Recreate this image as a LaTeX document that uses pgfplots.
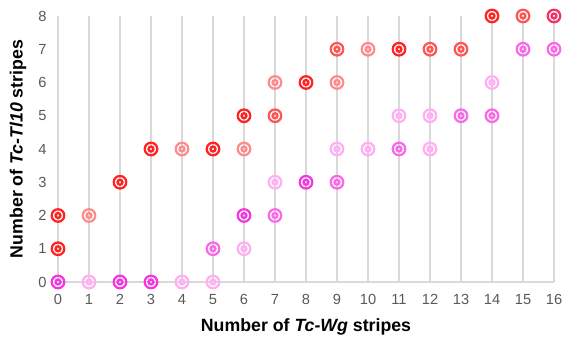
\documentclass[border=0pt]{standalone}
\usepackage{fontspec}
\setmainfont{Liberation Sans}
\usepackage{pgfplots}
\pgfplotsset{compat=1.18}
\definecolor{rdark}{RGB}{255,35,35}
\definecolor{rmed}{RGB}{255,85,85}
\definecolor{rlight}{RGB}{255,140,140}
\definecolor{crim}{RGB}{242,50,105}
\definecolor{mdark}{RGB}{245,55,225}
\definecolor{mmed}{RGB}{250,105,232}
\definecolor{mlight}{RGB}{255,175,242}
\definecolor{tickgray}{RGB}{89,89,89}
\definecolor{gridgray}{RGB}{217,217,217}
\pgfdeclareplotmark{ring2}{%
  \pgfpathcircle{\pgfpointorigin}{\pgfplotmarksize}\pgfusepathqstroke
  \pgfpathcircle{\pgfpointorigin}{0.4\pgfplotmarksize}\pgfusepathqstroke}
\begin{document}
\begin{tikzpicture}
\begin{axis}[
  name=main,
  scale only axis,
  width=372pt, height=199.5pt,
  xmin=0, xmax=16, ymin=0, ymax=8,
  xtick={0,...,16}, ytick={0,...,8},
  axis line style={draw=none},
  tick style={draw=none},
  xmajorgrids,
  grid style={gridgray, line width=1.1pt},
  clip=false,
  /pgf/number format/assume math mode=true,
  ticklabel style={font=\fontsize{11}{13}\selectfont, text=tickgray},
  xticklabel style={yshift=-5.5pt},
  yticklabel style={xshift=-5pt},
  xlabel={\bfseries Number of \textit{Tc-Wg} stripes},
  ylabel={\bfseries Number of \textit{Tc-Tl10} stripes},
  label style={font=\fontsize{13.3}{15}\selectfont},
  xlabel style={at={(axis description cs:0.5,-0.17)}, anchor=center},
  ylabel style={at={(axis description cs:-0.0806,0.5)}, anchor=center},
  every axis plot/.append style={only marks, mark=ring2, mark size=4.7pt, line width=1.7pt},
]
\draw[gridgray, line width=1.1pt] (axis cs:0,0) -- (axis cs:16,0);
\addplot[color=mlight] coordinates {(1,0) (4,0) (5,0) (6,1) (7,3) (9,4) (10,4) (11,5) (12,5) (12,4) (14,6)};
\addplot[color=mmed] coordinates {(5,1) (7,2) (9,3) (11,4) (13,5) (14,5) (15,7) (16,7)};
\addplot[color=mdark] coordinates {(0,0) (2,0) (3,0) (6,2) (8,3)};
\addplot[color=rlight] coordinates {(1,2) (4,4) (6,4) (7,6) (9,6) (10,7)};
\addplot[color=rmed] coordinates {(7,5) (9,7) (12,7) (13,7) (15,8)};
\addplot[color=rdark] coordinates {(0,2) (0,1) (2,3) (3,4) (5,4) (6,5) (8,6) (11,7) (14,8)};
\addplot[color=crim] coordinates {(16,8)};
\end{axis}
\pgfresetboundingbox
\path ([shift={(-43.5pt,-47.25pt)}]main.south west) rectangle ([shift={(6.75pt,12pt)}]main.north east);
\end{tikzpicture}
\end{document}
